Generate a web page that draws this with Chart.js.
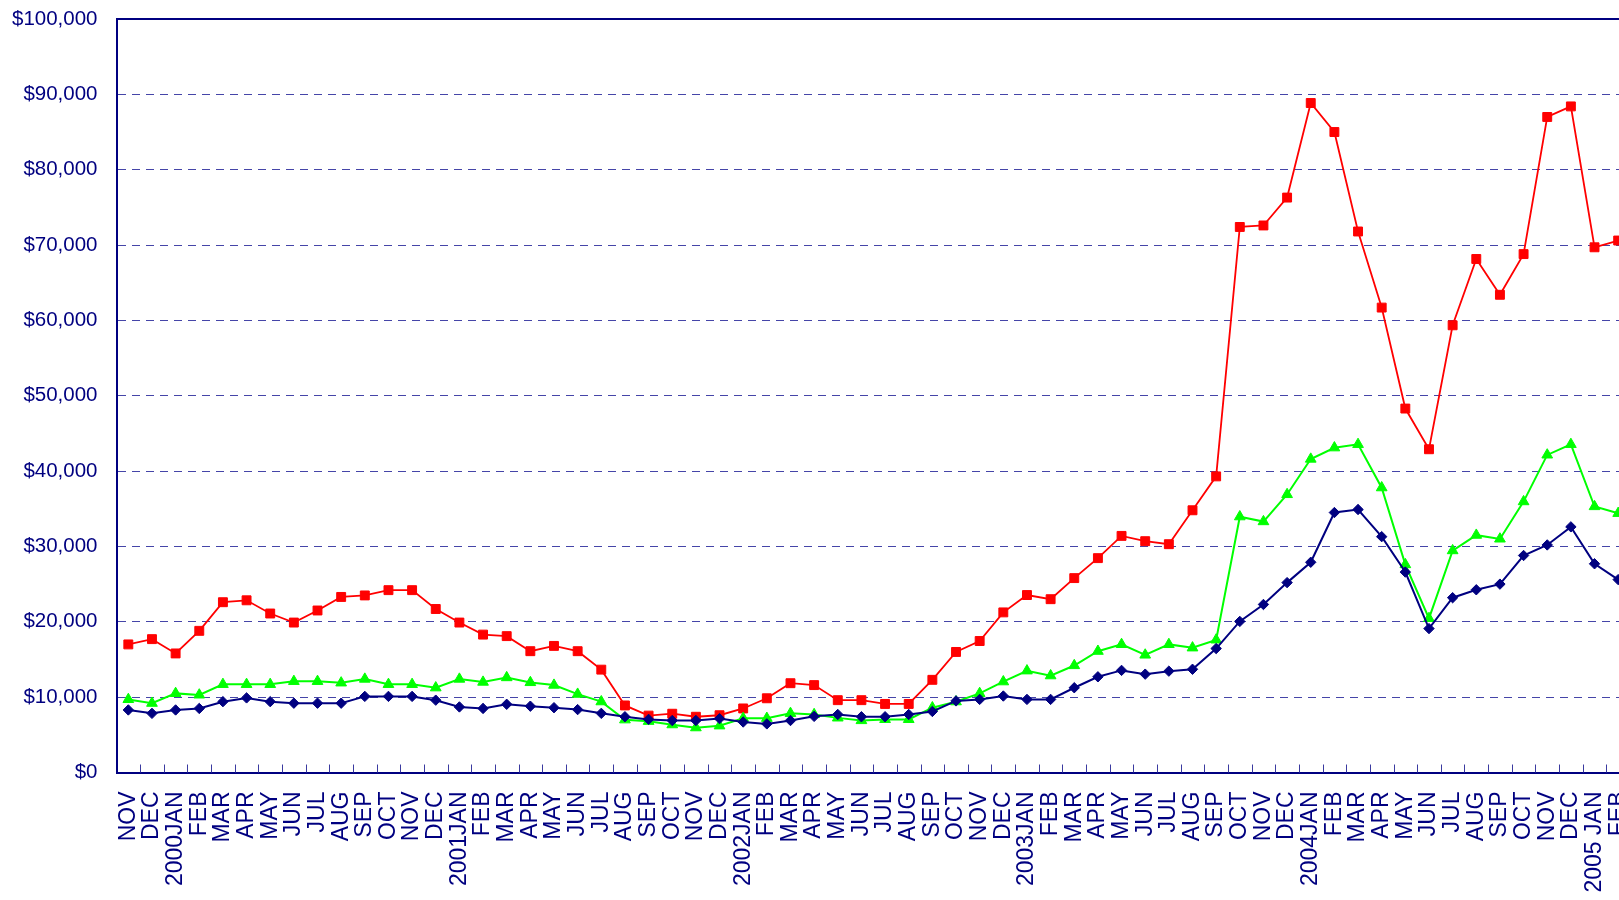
<!DOCTYPE html>
<html>
<head>
<meta charset="utf-8">
<script src="https://cdn.jsdelivr.net/npm/chart.js@4.4.1/dist/chart.umd.min.js"></script>
<style>
html, body { margin: 0; padding: 0; overflow: hidden; background: #ffffff; }
#c { display: block; }
</style>
</head>
<body>
<canvas id="c" width="1640" height="920"></canvas>
<script>
const categories = [
  'NOV','DEC',
  '2000JAN','FEB','MAR','APR','MAY','JUN','JUL','AUG','SEP','OCT','NOV','DEC',
  '2001JAN','FEB','MAR','APR','MAY','JUN','JUL','AUG','SEP','OCT','NOV','DEC',
  '2002JAN','FEB','MAR','APR','MAY','JUN','JUL','AUG','SEP','OCT','NOV','DEC',
  '2003JAN','FEB','MAR','APR','MAY','JUN','JUL','AUG','SEP','OCT','NOV','DEC',
  '2004JAN','FEB','MAR','APR','MAY','JUN','JUL','AUG','SEP','OCT','NOV','DEC',
  '2005 JAN','FEB'
];

const redSeries = [
  17000, 17700,
  15800, 18800, 22600, 22850, 21100, 19900, 21500, 23300, 23500, 24200, 24200, 21700,
  19900, 18300, 18100, 16100, 16800, 16100, 13650, 8900, 7550, 7800, 7400, 7600,
  8500, 9850, 11850, 11600, 9600, 9600, 9100, 9100, 12300, 16000, 17450, 21250,
  23550, 23000, 25800, 28450, 31400, 30700, 30300, 34800, 39300, 72400, 72600, 76300,
  88850, 85000, 71800, 61700, 48300, 42900, 59350, 68150, 63400, 68800, 87000, 88400,
  69700, 70600
];

const greenSeries = [
  9700, 9200,
  10500, 10300, 11700, 11700, 11700, 12100, 12100, 11900, 12400, 11700, 11700, 11250,
  12400, 12000, 12600, 11950, 11600, 10400, 9400, 7000, 6800, 6350, 5950, 6200,
  7200, 7200, 7850, 7700, 7250, 6900, 7050, 7050, 8600, 9400, 10500, 12050,
  13500, 12850, 14200, 16100, 17000, 15600, 17000, 16550, 17600, 33950, 33300, 36900,
  41600, 43100, 43550, 37800, 27600, 20450, 29450, 31500, 31000, 35950, 42150, 43550,
  35300, 34400
];

const navySeries = [
  8300, 7850,
  8300, 8500, 9400, 9900, 9400, 9200, 9200, 9200, 10100, 10100, 10100, 9600,
  8700, 8500, 9050, 8800, 8600, 8350, 7850, 7400, 7050, 6900, 6900, 7150,
  6700, 6450, 6900, 7450, 7700, 7400, 7400, 7700, 8100, 9500, 9700, 10150,
  9700, 9700, 11250, 12700, 13550, 13050, 13450, 13700, 16450, 20050, 22300, 25200,
  27900, 34500, 34900, 31300, 26600, 19100, 23200, 24250, 25000, 28800, 30200, 32600,
  27700, 25600
];

const yMin = 0;
const yMax = 100000;
const yStep = 10000;

const NAVY = '#000080';
const FONT = '"Liberation Sans", Arial, sans-serif';

const framePlugin = {
  id: 'frame',
  afterDraw(chart) {
    const ctx = chart.ctx;
    const a = chart.chartArea;
    const xs = chart.scales.x;
    ctx.save();
    ctx.strokeStyle = '#3b3ba0';
    ctx.lineWidth = 1;
    ctx.beginPath();
    for (let i = 1; i <= categories.length; i++) {
      const px = Math.round(xs.getPixelForValue(i - 0.5)) + 0.5;
      ctx.moveTo(px, a.bottom);
      ctx.lineTo(px, a.bottom - 8);
    }
    ctx.stroke();
    ctx.strokeStyle = NAVY;
    ctx.lineWidth = 2;
    ctx.beginPath();
    ctx.moveTo(a.left, a.top);
    ctx.lineTo(a.right, a.top);
    ctx.lineTo(a.right, a.bottom);
    ctx.stroke();
    ctx.restore();
  }
};

new Chart(document.getElementById('c'), {
  type: 'line',
  data: {
    labels: categories,
    datasets: [
      {
        label: 'navy',
        data: navySeries,
        borderColor: NAVY,
        backgroundColor: NAVY,
        borderWidth: 2,
        pointStyle: 'rectRot',
        pointRadius: 5.2,
        pointBorderWidth: 1,
        tension: 0
      },
      {
        label: 'green',
        data: greenSeries,
        borderColor: '#00ff00',
        backgroundColor: '#00ff00',
        borderWidth: 2,
        pointStyle: 'triangle',
        pointRadius: 6.2,
        pointBorderWidth: 1,
        tension: 0
      },
      {
        label: 'red',
        data: redSeries,
        borderColor: '#ff0000',
        backgroundColor: '#ff0000',
        borderWidth: 1.8,
        pointStyle: 'rect',
        pointRadius: 6.3,
        pointBorderWidth: 1,
        tension: 0
      }
    ]
  },
  options: {
    responsive: false,
    animation: false,
    events: [],
    layout: { padding: { top: 19, right: 10, left: 0, bottom: 0 } },
    plugins: {
      legend: { display: false },
      tooltip: { enabled: false },
      title: { display: false }
    },
    scales: {
      x: {
        type: 'category',
        offset: true,
        grid: { display: false, drawTicks: false },
        border: { display: true, color: NAVY, width: 2 },
        ticks: {
          autoSkip: false,
          maxRotation: 90,
          minRotation: 90,
          padding: 19,
          color: NAVY,
          font: { family: FONT, size: 23 }
        },
        afterFit(scale) {
          scale.height = 147.5;
          scale.paddingLeft = 0;
          scale.paddingRight = 0;
        }
      },
      y: {
        min: yMin,
        max: yMax,
        grid: {
          color: '#4545a8',
          lineWidth: 1,
          drawTicks: false
        },
        border: { display: true, color: NAVY, width: 2, dash: [8, 6] },
        ticks: {
          stepSize: yStep,
          padding: 19,
          color: NAVY,
          font: { family: FONT, size: 20.5 },
          callback: (v) => '$' + Number(v).toLocaleString('en-US')
        },
        afterFit(scale) {
          scale.width = 116.5;
          scale.paddingTop = 0;
          scale.paddingBottom = 0;
        }
      }
    }
  },
  plugins: [framePlugin]
});
</script>
</body>
</html>
